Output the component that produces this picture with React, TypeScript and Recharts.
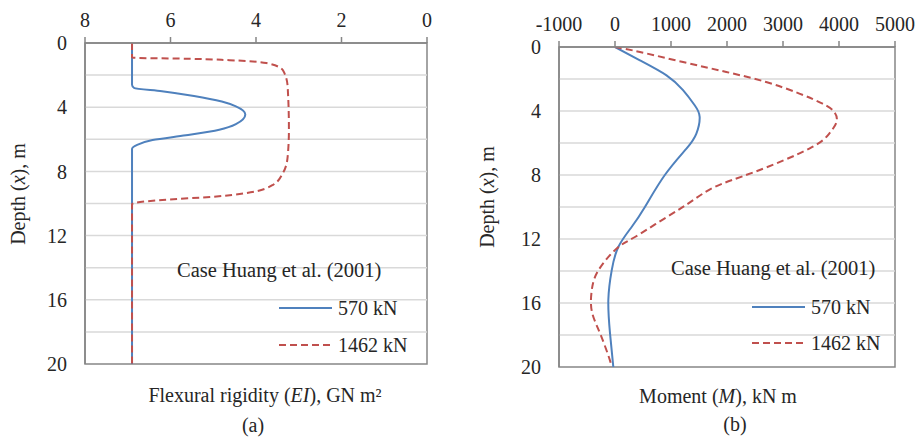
import React from 'react';
import { LineChart, Line, XAxis, YAxis, ReferenceLine, ReferenceArea } from 'recharts';

const FONT = '"Liberation Serif", "Times New Roman", Times, serif';

// ---- Panel (a): flexural rigidity EI (GN m²) vs depth (m)
const eiTicks = [0, 2, 4, 6, 8];
const depthTicks = [0, 4, 8, 12, 16, 20];
const gridDepths = [2, 4, 6, 8, 10, 12, 14, 16, 18];

const depthEI570 = [0, 2.6, 2.8, 3.0, 3.3, 3.65, 3.95, 4.45, 5.05, 5.4, 5.75, 6.05, 6.35, 6.6, 20];
const ei570 = [6.9, 6.9, 6.85, 6.2, 5.45, 4.8, 4.47, 4.25, 4.47, 4.86, 5.64, 6.42, 6.78, 6.9, 6.9];

const depthEI1462 = [0, 0.9, 0.93, 0.97, 1.07, 1.25, 1.7, 2.7, 5.4, 7.1, 8.1, 8.85, 9.35, 9.58, 9.78, 9.95, 10.05, 20];
const ei1462 = [6.9, 6.9, 6.8, 5.8, 4.62, 3.76, 3.37, 3.26, 3.23, 3.26, 3.37, 3.61, 4.23, 5.01, 6.19, 6.81, 6.9, 6.9];

// ---- Panel (b): moment M (kN m) vs depth (m)
const momentTicks = [-1000, 0, 1000, 2000, 3000, 4000, 5000];

const depthM570 = [0, 0.83, 1.77, 2.7, 3.64, 4.37, 5.41, 6.35, 8.0, 10.0, 11.25, 12.5, 13.96, 15.8, 17.9, 20];
const m570 = [0, 445, 920, 1215, 1423, 1512, 1453, 1276, 890, 534, 297, 59, -59, -119, -89, -30];

const depthM1462 = [0, 0.31, 0.94, 1.56, 2.19, 2.91, 3.54, 4.06, 4.69, 5.41, 6.35, 7.81, 8.75, 9.79, 10.83, 11.875, 12.6, 13.96, 15.2, 16.5, 17.9, 19.6, 20];
const m1462 = [0, 445, 1215, 1987, 2699, 3292, 3707, 3915, 3956, 3826, 3470, 2491, 1779, 1305, 831, 356, 30, -297, -415, -415, -267, -89, -75];

const seriesNames = ['570 kN', '1462 kN'];
const caseLabel = 'Case Huang et al. (2001)';

const BLUE = '#4f81bd';
const RED = '#c0504d';
const AXIS = '#868686';
const GRID = '#d9d9d9';
const TEXT = '#262626';

const zip = (ds: number[], vs: number[]) => ds.map((d, i) => ({ d, v: vs[i] }));

type PanelProps = {
  width: number;
  height: number;
  margin: { top: number; right: number; bottom: number; left: number };
  xDomain: [number, number];
  xTicks: number[];
  xReversed: boolean;
  curve: 'monotone' | 'natural';
  blue: { d: number; v: number }[];
  red: { d: number; v: number }[];
};

function Panel({ width, height, margin, xDomain, xTicks, xReversed, curve, blue, red }: PanelProps) {
  const tickStyle = { fill: TEXT, fontSize: 20, fontFamily: FONT };
  return (
    <LineChart width={width} height={height} layout="vertical" margin={margin} style={{ fontFamily: FONT }}>
      <XAxis
        type="number"
        orientation="top"
        domain={xDomain}
        ticks={xTicks}
        interval={0}
        reversed={xReversed}
        allowDataOverflow
        height={30}
        axisLine={{ stroke: AXIS, strokeWidth: 1.5 }}
        tickLine={{ stroke: AXIS, strokeWidth: 1.5 }}
        tickSize={6}
        tickMargin={10}
        tick={tickStyle}
      />
      <YAxis
        type="number"
        dataKey="d"
        domain={[0, 20]}
        ticks={depthTicks}
        interval={0}
        allowDataOverflow
        width={60}
        axisLine={{ stroke: AXIS, strokeWidth: 1.5 }}
        tickLine={false}
        tickSize={0}
        tickMargin={18}
        tick={tickStyle}
      />
      {gridDepths.map((g) => (
        <ReferenceLine key={g} y={g} stroke={GRID} strokeWidth={1.5} />
      ))}
      <ReferenceArea x1={xDomain[0]} x2={xDomain[1]} y1={0} y2={20} fill="none" fillOpacity={0} stroke={AXIS} strokeWidth={1.5} />
      <Line data={blue} dataKey="v" type={curve} stroke={BLUE} strokeWidth={2} dot={false} isAnimationActive={false} />
      <Line data={red} dataKey="v" type={curve} stroke={RED} strokeWidth={2} strokeDasharray="7 4" dot={false} isAnimationActive={false} />
    </LineChart>
  );
}

function Legend({ x0, yCase, xLine, yBlue, yRed, xText }: { x0: number; yCase: number; xLine: number; yBlue: number; yRed: number; xText: number }) {
  return (
    <g>
      <text x={x0} y={yCase} dominantBaseline="central" fontSize={20.5} fill={TEXT}>{caseLabel}</text>
      <line x1={xLine} x2={xLine + 53} y1={yBlue} y2={yBlue} stroke={BLUE} strokeWidth={2} />
      <text x={xText} y={yBlue} dominantBaseline="central" fontSize={20} fill={TEXT}>{seriesNames[0]}</text>
      <line x1={xLine} x2={xLine + 53} y1={yRed} y2={yRed} stroke={RED} strokeWidth={2} strokeDasharray="7 4" />
      <text x={xText} y={yRed} dominantBaseline="central" fontSize={20} fill={TEXT}>{seriesNames[1]}</text>
    </g>
  );
}

export default function App() {
  return (
    <div style={{ position: 'absolute', left: 0, top: 0, width: 918, height: 441, background: '#fff', fontFamily: FONT }}>
      <div style={{ position: 'absolute', left: 0, top: 0 }}>
        <Panel
          width={460}
          height={441}
          margin={{ top: 13, right: 33, bottom: 77, left: 25 }}
          xDomain={[0, 8]}
          xTicks={eiTicks}
          xReversed={true}
          curve="monotone"
          blue={zip(depthEI570, ei570)}
          red={zip(depthEI1462, ei1462)}
        />
      </div>
      <div style={{ position: 'absolute', left: 460, top: 0 }}>
        <Panel
          width={458}
          height={441}
          margin={{ top: 17, right: 23, bottom: 74, left: 39 }}
          xDomain={[-1000, 5000]}
          xTicks={momentTicks}
          xReversed={false}
          curve="natural"
          blue={zip(depthM570, m570)}
          red={zip(depthM1462, m1462)}
        />
      </div>
      <svg width={918} height={441} style={{ position: 'absolute', left: 0, top: 0, pointerEvents: 'none', fontFamily: FONT }}>
        <Legend x0={177} yCase={270} xLine={279} yBlue={308} yRed={345} xText={338} />
        <Legend x0={671} yCase={268} xLine={752} yBlue={307} yRed={343} xText={811} />
        <text x={265} y={395} textAnchor="middle" dominantBaseline="central" fontSize={20} fill={TEXT}>
          Flexural rigidity (<tspan fontStyle="italic">EI</tspan>), GN m²
        </text>
        <text x={253} y={425} textAnchor="middle" dominantBaseline="central" fontSize={20} fill={TEXT}>(a)</text>
        <text x={718} y={396} textAnchor="middle" dominantBaseline="central" fontSize={20} fill={TEXT}>
          Moment (<tspan fontStyle="italic">M</tspan>), kN m
        </text>
        <text x={735} y={424} textAnchor="middle" dominantBaseline="central" fontSize={20} fill={TEXT}>(b)</text>
        <text x={18} y={194} textAnchor="middle" dominantBaseline="central" fontSize={20} fill={TEXT} transform="rotate(-90 18 194)">
          Depth (<tspan fontStyle="italic">x</tspan>), m
        </text>
        <text x={487} y={197} textAnchor="middle" dominantBaseline="central" fontSize={20} fill={TEXT} transform="rotate(-90 487 197)">
          Depth (<tspan fontStyle="italic">x</tspan>), m
        </text>
      </svg>
    </div>
  );
}
